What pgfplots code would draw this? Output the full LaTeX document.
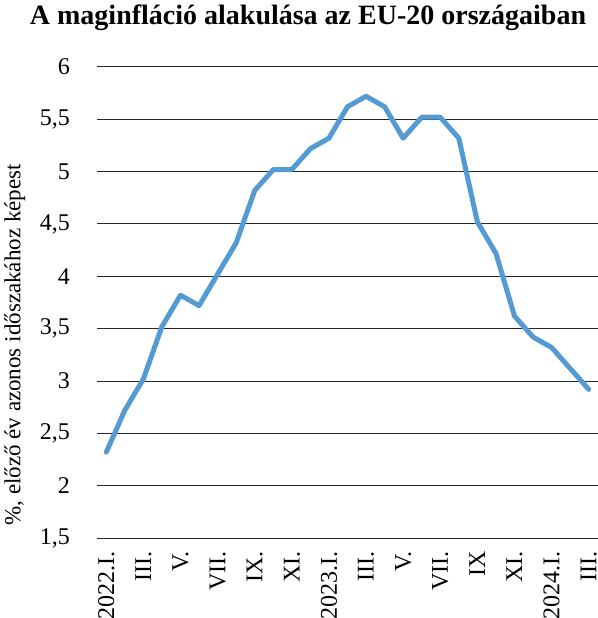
\documentclass[border=0pt]{standalone}
\usepackage{pgfplots}
\pgfplotsset{compat=1.18}
\usepackage{fontspec}
\setmainfont{Liberation Serif}
\definecolor{lineblue}{RGB}{84,155,212}
\begin{document}
\begin{tikzpicture}
\useasboundingbox (-97bp,-80bp) rectangle (501bp,538bp);
\begin{axis}[
  at={(0,0)}, anchor=south west,
  scale only axis, width=501bp, height=471bp,
  xmin=-0.5, xmax=26.5, ymin=1.5, ymax=6,
  ytick={1.5,2,...,6},
  xtick={0,2,...,26},
  xticklabels={2022.I.,III.,V.,VII.,IX.,XI.,2023.I.,III.,V.,VII.,IX,XI.,2024.I.,III.},
  xticklabel style={rotate=90, anchor=east, font=\fontsize{24bp}{28bp}\selectfont, inner sep=0pt, xshift=-13bp},
  yticklabel style={font=\fontsize{24bp}{28bp}\selectfont, inner sep=0pt, xshift=-27bp},
  /pgf/number format/.cd, use comma, assume math mode=true, fixed, /pgfplots/.cd,
  axis line style={draw=none},
  major tick length=0pt,
  ymajorgrids, grid style={black!85, line width=1bp},
  ylabel={\%, előző év azonos időszakához képest},
  ylabel style={at={(axis description cs:-0.164,0.41)}, anchor=center, font=\fontsize{23bp}{26bp}\selectfont},
  clip=false,
]
\addplot[lineblue, line width=5bp, line join=round, line cap=round] coordinates {
(0,2.32) (1,2.72) (2,3.02) (3,3.52) (4,3.82) (5,3.72) (6,4.02) (7,4.32) (8,4.82)
(9,5.02) (10,5.02) (11,5.22) (12,5.32) (13,5.62) (14,5.72) (15,5.62) (16,5.32)
(17,5.52) (18,5.52) (19,5.32) (20,4.52) (21,4.22) (22,3.62) (23,3.42) (24,3.32)
(25,3.12) (26,2.92)
};
\end{axis}
\node[font=\bfseries\fontsize{28bp}{31bp}\selectfont, anchor=center] at (211bp,520bp) {A maginfláció alakulása az EU-20 országaiban};
\end{tikzpicture}
\end{document}
